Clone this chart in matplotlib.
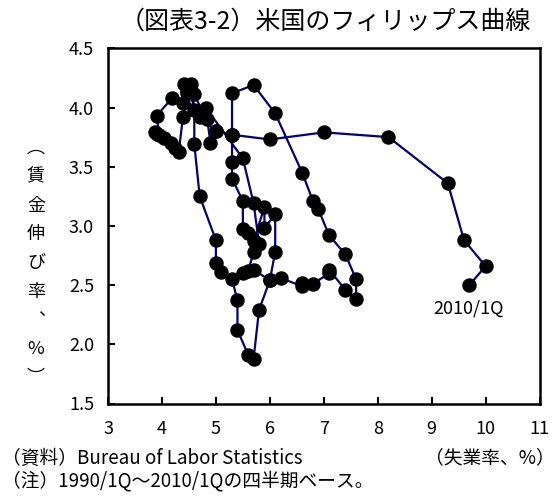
import matplotlib
matplotlib.use("Agg")
import matplotlib.pyplot as plt

plt.rcParams['font.family'] = ['Noto Sans CJK JP', 'DejaVu Sans']

# Unemployment rate (%), 1990/1Q - 2010/1Q
unemployment = [
    5.3, 5.3, 5.7, 6.1,   # 1990
    6.6, 6.8, 6.9, 7.1,   # 1991
    7.4, 7.6, 7.6, 7.4,   # 1992
    7.1, 7.1, 6.8, 6.6,   # 1993
    6.6, 6.2, 6.0, 5.7,   # 1994
    5.5, 5.6, 5.7, 5.6,   # 1995
    5.5, 5.5, 5.3, 5.3,   # 1996
    5.3, 5.0, 4.9, 4.84,  # 1997
    4.59, 4.40, 4.47, 4.39,  # 1998
    4.31, 4.25, 4.16, 4.03,  # 1999
    3.91, 3.88, 3.95, 3.90,  # 2000
    4.19, 4.39, 4.81, 5.5,   # 2001
    5.7, 5.8, 5.7, 5.9,   # 2002
    5.9, 6.1, 6.1, 6.0,   # 2003
    5.8, 5.7, 5.6, 5.4,   # 2004
    5.4, 5.3, 5.1, 5.0,   # 2005
    5.0, 4.7, 4.6, 4.6,   # 2006
    4.53, 4.47, 4.71, 5.0,  # 2007
    5.3, 6.0, 7.0, 8.2,   # 2008
    9.3, 9.6, 10.0, 9.7,  # 2009 -> 2010/1Q
]

# Wage growth rate (%)
wage_growth = [
    3.77, 4.12, 4.19, 3.95,
    3.45, 3.21, 3.14, 2.92,
    2.76, 2.55, 2.38, 2.46,
    2.63, 2.60, 2.51, 2.52,
    2.49, 2.56, 2.54, 2.63,
    2.60, 2.62, 2.78, 2.94,
    2.97, 3.21, 3.40, 3.54,
    3.77, 3.80, 3.70, 3.90,
    4.11, 4.20, 4.12, 3.92,
    3.62, 3.66, 3.70, 3.74,
    3.78, 3.79, 3.77, 3.93,
    4.08, 4.04, 4.00, 3.57,
    3.19, 2.85, 2.87, 3.16,
    2.98, 3.10, 2.78, 2.54,
    2.29, 1.88, 1.91, 2.12,
    2.37, 2.55, 2.61, 2.69,
    2.88, 3.25, 3.69, 3.98,
    4.20, 4.14, 3.92, 3.80,
    3.77, 3.73, 3.79, 3.75,
    3.36, 2.88, 2.66, 2.50,
]

x_ticks = [3, 4, 5, 6, 7, 8, 9, 10, 11]
y_ticks = [1.5, 2.0, 2.5, 3.0, 3.5, 4.0, 4.5]

title = "（図表3-2）米国のフィリップス曲線"
y_label_chars = ["︵", "賃", "金", "伸", "び", "率", "︑", "%", "︶"]
x_label = "（失業率、%）"
note1 = "（資料）Bureau of Labor Statistics"
note2 = "（注）1990/1Q～2010/1Qの四半期ベース。"
annot = "2010/1Q"

W, H = 559, 497
fig = plt.figure(figsize=(W / 100, H / 100), dpi=100)
ax = fig.add_axes([108 / W, 1 - 403.5 / H, (539.5 - 108) / W, (403.5 - 48.3) / H])

ax.plot(unemployment, wage_growth, color='#000080', lw=1.6,
        marker='o', ms=9.4, mfc='black', mec='black', zorder=3)

ax.set_xlim(3, 11)
ax.set_ylim(1.5, 4.5)
ax.set_xticks(x_ticks)
ax.set_yticks(y_ticks)
ax.set_xticklabels([str(v) for v in x_ticks])
ax.set_yticklabels([f"{v:.1f}" for v in y_ticks])
ax.tick_params(axis='x', direction='in', length=5, width=1.5, pad=12, labelsize=13)
ax.tick_params(axis='y', direction='in', length=5, width=1.5, pad=10, labelsize=13)
for s in ax.spines.values():
    s.set_linewidth(1.8)
    s.set_color('black')

ax.text(9.69, 2.30, annot, ha='center', va='center', fontsize=13)

fig.text(325 / W, 1 - 22 / H, title, ha='center', va='center', fontsize=18)

y0, y1 = 148, 378
n = len(y_label_chars)
for i, ch in enumerate(y_label_chars):
    yy = y0 + (y1 - y0) * i / (n - 1)
    fig.text(36 / W, 1 - yy / H, ch, ha='center', va='center', fontsize=13)

fig.text(555 / W, 1 - 458 / H, x_label, ha='right', va='center', fontsize=13.5)
fig.text(2 / W, 1 - 458 / H, note1, ha='left', va='center', fontsize=13.5)
fig.text(2 / W, 1 - 481 / H, note2, ha='left', va='center', fontsize=13.5)

fig.savefig("out.png", dpi=100)
